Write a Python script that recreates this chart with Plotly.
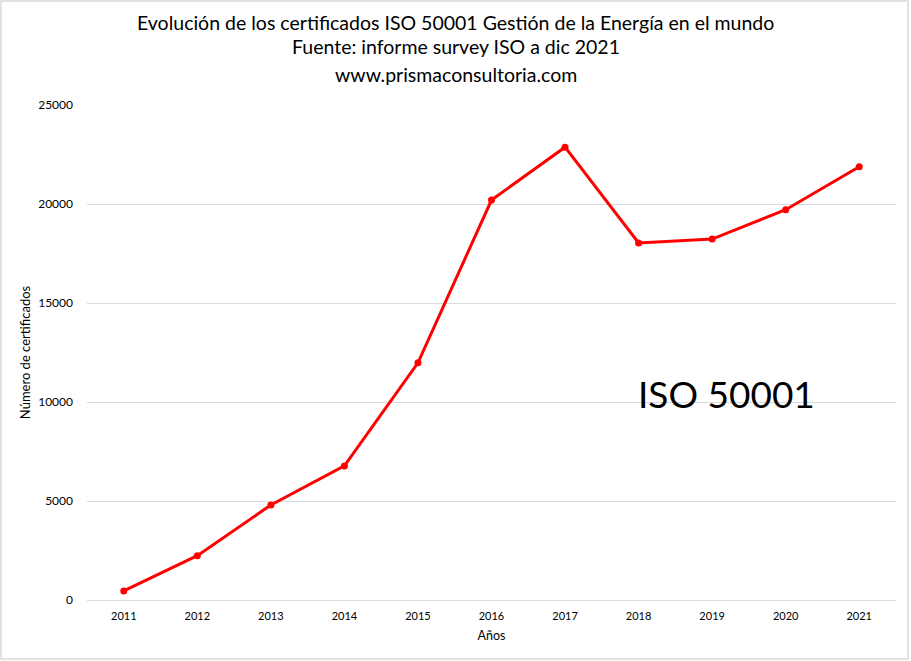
import plotly.graph_objects as go

# datos
anios = ['2011', '2012', '2013', '2014', '2015', '2016', '2017', '2018', '2019', '2020', '2021']
certificados = [460, 2240, 4800, 6770, 11980, 20200, 22870, 18030, 18230, 19710, 21880]
y_ticks = [0, 5000, 10000, 15000, 20000, 25000]

lineas_titulo = ['Evolución de los certificados ISO 50001 Gestión de la Energía en el mundo',
                 'Fuente: informe survey ISO a dic 2021',
                 'www.prismaconsultoria.com']

fig = go.Figure()

# linea roja con puntos
fig.add_trace(
    go.Scatter(
        x=anios,
        y=certificados,
        mode='lines+markers',
        line=dict(color='#ff0000', width=3),
        marker=dict(color='#ff0000', size=7),
        showlegend=False,
    )
)

# titulo en tres lineas, centrado sobre toda la figura (px convertidos a paper)
for i, texto in enumerate(lineas_titulo):
    py = [22, 47, 74][i]
    fig.add_annotation(
        text=texto,
        x=(455.5 - 87) / 809, y=(600 - py) / 495,
        xref='paper', yref='paper',
        xanchor='center', yanchor='middle',
        showarrow=False,
        font=dict(size=19.5, color='#000000', family='Lato'),
    )

# texto grande dentro del grafico
fig.add_annotation(
    text='ISO 50001',
    x=8.2, y=10450,
    xref='x', yref='y',
    showarrow=False,
    font=dict(size=37, color='#000000', family='Lato'),
)

fig.update_layout(
    width=911,
    height=661,
    paper_bgcolor='white',
    plot_bgcolor='white',
    font_family='Lato',
    font_color='#000000',
    margin=dict(l=87, r=15, t=105, b=61),
    xaxis=dict(
        type='category',
        range=[-0.5, len(anios) - 0.5],
        showgrid=False,
        showline=False,
        ticks='',
        tickfont=dict(size=11),
        ticklabelstandoff=8,
        title=dict(text='Años', font=dict(size=12.5), standoff=10),
    ),
    yaxis=dict(
        range=[0, 25000],
        tickvals=y_ticks,
        tickformat='d',
        showgrid=True,
        gridcolor='#d9d9d9',
        zeroline=True,
        zerolinecolor='#d9d9d9',
        zerolinewidth=1,
        showline=False,
        ticks='',
        tickfont=dict(size=12),
        ticklabelstandoff=13,
        title=dict(text='Número de certificados', font=dict(size=13), standoff=4),
    ),
    shapes=[
        dict(type='rect', xref='paper', yref='paper',
             x0=-86 / 809, x1=1 + 12 / 809, y0=-59 / 495, y1=1 + 104 / 495,
             line=dict(color='#d9d9d9', width=1.5), layer='below'),
    ],
)

# quitar el margen del body para que el grafico quede en 0,0
fig.write_html('out.html', config={'displayModeBar': False},
               post_script="document.body.style.margin='0';")
